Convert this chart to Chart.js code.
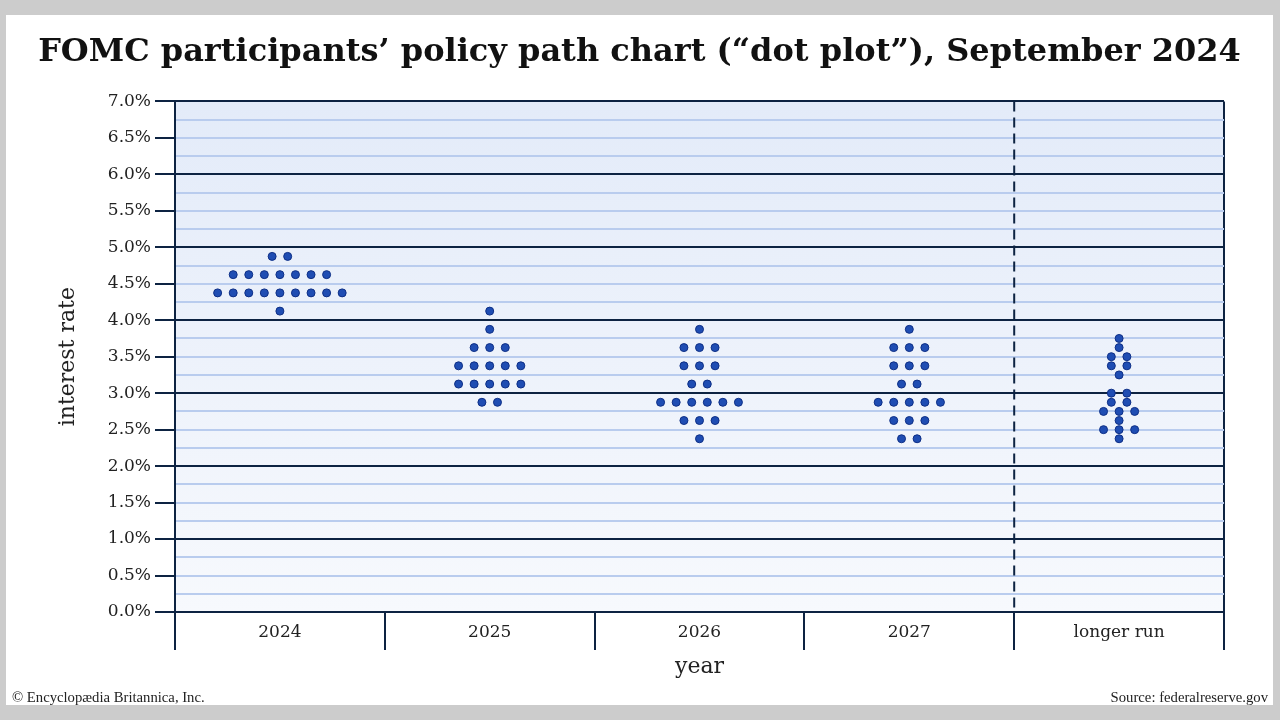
<!DOCTYPE html>
<html>
<head>
<meta charset="utf-8">
<script src="https://cdn.jsdelivr.net/npm/chart.js@4.4.1/dist/chart.umd.min.js"></script>
<style>
body { margin: 0; background: #cccccc; width: 1280px; height: 720px; overflow: hidden; }
#panel { position: absolute; left: 6px; top: 15px; width: 1267px; height: 690px; background: #ffffff; }
#dotChart { position: absolute; left: 0; top: 0; }
.note { position: absolute; top: 674px; font-family: 'Liberation Serif', serif; font-size: 14.7px; color: #222; }
</style>
</head>
<body>
<div id="panel">
  <canvas id="dotChart" width="1267" height="690"></canvas>
  <div class="note" style="left:6px">© Encyclopædia Britannica, Inc.</div>
  <div class="note" style="right:5px">Source: federalreserve.gov</div>
</div>
<script>
// categories along the bottom
const categories = ['2024', '2025', '2026', '2027', 'longer run'];

// each rate level and how many participants put a dot there
const rates2024 = [4.875, 4.625, 4.375, 4.125];
const counts2024 = [2, 7, 9, 1];
const rates2025 = [4.125, 3.875, 3.625, 3.375, 3.125, 2.875];
const counts2025 = [1, 1, 3, 5, 5, 2];
const rates2026 = [3.875, 3.625, 3.375, 3.125, 2.875, 2.625, 2.375];
const counts2026 = [1, 3, 3, 2, 6, 3, 1];
const rates2027 = [3.875, 3.625, 3.375, 3.125, 2.875, 2.625, 2.375];
const counts2027 = [1, 3, 3, 2, 5, 3, 2];
const ratesLonger = [3.75, 3.625, 3.5, 3.375, 3.25, 3.0, 2.875, 2.75, 2.625, 2.5, 2.375];
const countsLonger = [1, 1, 2, 2, 1, 2, 2, 3, 1, 3, 1];

const navy = '#0d2342';
const lightLine = '#b9ccee';
const dotStep = 0.0742; // gap between dots, in category widths
const serif = "'DejaVu Serif', 'Liberation Serif', serif";

// spread the dots of one level side by side, centred in the column
function buildDots(col, rates, counts) {
    let pts = [];
    rates.forEach((r, i) => {
        let n = counts[i];
        for (let j = 0; j < n; j++) {
            pts.push({ x: col + 0.5 + (j - (n - 1) / 2) * dotStep, y: r });
        }
    });
    return pts;
}

const allRates = [rates2024, rates2025, rates2026, rates2027, ratesLonger];
const allCounts = [counts2024, counts2025, counts2026, counts2027, countsLonger];

const datasets = categories.map((c, i) => ({
    label: c,
    data: buildDots(i, allRates[i], allCounts[i]),
    pointRadius: 4,
    pointHoverRadius: 4,
    backgroundColor: '#1f4db3',
    borderColor: '#0e2f86',
    borderWidth: 1
}));

// light blue fill behind the plot, a bit stronger at the top
const plotBackground = {
    id: 'plotBackground',
    beforeDraw(chart) {
        const { ctx, chartArea: a } = chart;
        let g = ctx.createLinearGradient(0, a.top, 0, a.bottom);
        g.addColorStop(0, '#e3ebf9');
        g.addColorStop(1, '#f7f9fd');
        ctx.save();
        ctx.fillStyle = g;
        ctx.fillRect(a.left, a.top, a.right - a.left, a.bottom - a.top);
        ctx.restore();
    }
};

// dashed divider before "longer run"
const longerRunDivider = {
    id: 'longerRunDivider',
    beforeDatasetsDraw(chart) {
        const { ctx, chartArea: a, scales } = chart;
        let x = scales.x.getPixelForValue(4);
        ctx.save();
        ctx.strokeStyle = navy;
        ctx.lineWidth = 2;
        ctx.setLineDash([10, 6]);
        ctx.beginPath();
        ctx.moveTo(x, a.top);
        ctx.lineTo(x, a.bottom);
        ctx.stroke();
        ctx.restore();
    }
};

new Chart(document.getElementById('dotChart'), {
    type: 'scatter',
    data: { datasets: datasets },
    options: {
        responsive: false,
        animation: false,
        layout: { padding: 0 },
        plugins: {
            legend: { display: false },
            tooltip: { enabled: false },
            title: {
                display: true,
                text: 'FOMC participants’ policy path chart (“dot plot”), September 2024',
                color: '#111',
                font: { family: serif, size: 32, weight: 'bold' },
                padding: { top: 18, bottom: 30 }
            }
        },
        scales: {
            x: {
                type: 'linear',
                min: 0,
                max: 5,
                ticks: {
                    stepSize: 0.5,
                    autoSkip: false,
                    maxRotation: 0,
                    padding: -28,
                    color: '#222',
                    font: { family: serif, size: 17 },
                    callback: v => Number.isInteger(v) ? '' : categories[Math.floor(v)]
                },
                grid: {
                    color: ctx => (ctx.tick && (ctx.tick.value === 0 || ctx.tick.value === 5)) ? navy : 'transparent',
                    lineWidth: 2,
                    tickColor: ctx => (ctx.tick && Number.isInteger(ctx.tick.value)) ? navy : 'transparent',
                    tickLength: 38,
                    tickWidth: 2
                },
                border: { display: false },
                title: {
                    display: true,
                    text: 'year',
                    color: '#222',
                    font: { family: serif, size: 22 },
                    padding: { top: 4, bottom: 25 }
                },
                afterFit: s => { s.height = 93; }
            },
            y: {
                min: 0,
                max: 7,
                ticks: {
                    stepSize: 0.25,
                    autoSkip: false,
                    padding: 4,
                    color: '#222',
                    font: { family: serif, size: 17 },
                    callback: v => (v * 2) % 1 === 0 ? v.toFixed(1) + '%' : ''
                },
                grid: {
                    color: ctx => (ctx.tick && ctx.tick.value % 1 === 0) ? navy : lightLine,
                    lineWidth: 2,
                    tickColor: ctx => (ctx.tick && (ctx.tick.value * 2) % 1 === 0) ? navy : 'transparent',
                    tickLength: 20,
                    tickWidth: 2
                },
                border: { color: navy, width: 2 },
                title: {
                    display: true,
                    text: 'interest rate',
                    color: '#222',
                    font: { family: serif, size: 22 },
                    padding: { top: 49, bottom: 0 }
                },
                afterFit: s => { s.width = 169; }
            },
            // empty spacer on the right so the plot stops short of the panel edge
            yRight: {
                position: 'right',
                min: 0,
                max: 7,
                ticks: { display: false },
                grid: { display: false },
                border: { display: false },
                afterFit: s => { s.width = 49; }
            }
        }
    },
    plugins: [plotBackground, longerRunDivider]
});
</script>
</body>
</html>
